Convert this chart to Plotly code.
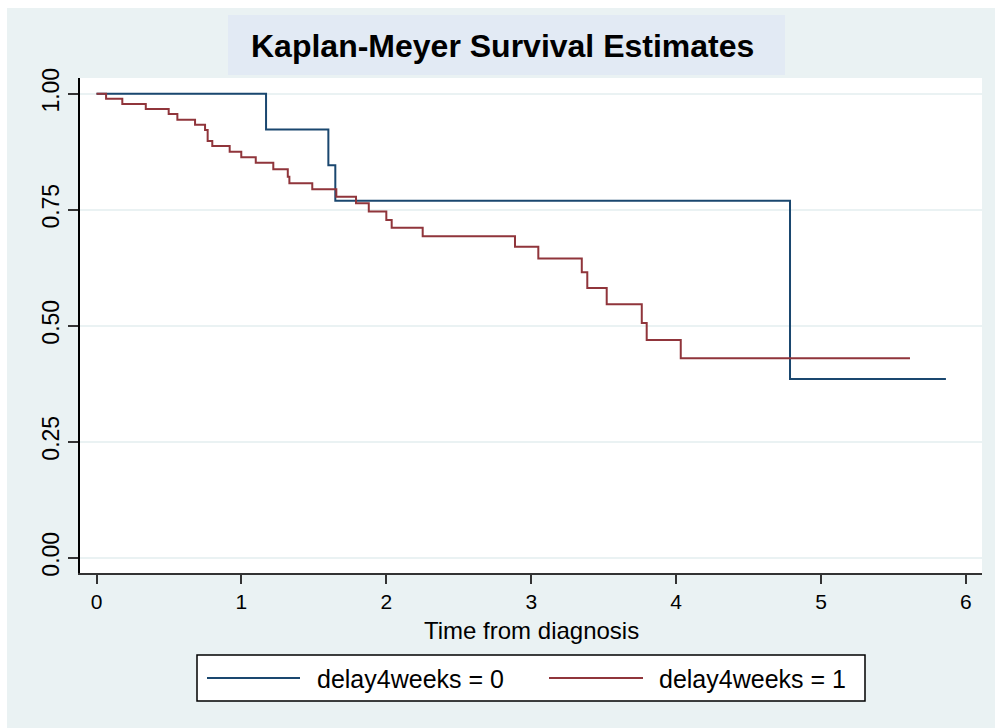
import plotly.graph_objects as go

# ---------------- data ----------------
group_names = ["delay4weeks = 0", "delay4weeks = 1"]

time_g0 = [0.0, 1.170, 1.600, 1.648, 4.786, 5.862]
surv_g0 = [1.000, 0.923, 0.846, 0.769, 0.385, 0.385]

time_g1 = [0.0, 0.066, 0.178, 0.340, 0.498, 0.558, 0.680, 0.749, 0.767, 0.799,
           0.919, 0.999, 1.099, 1.220, 1.320, 1.331, 1.489, 1.655, 1.791, 1.879,
           2.000, 2.037, 2.251, 2.888, 3.049, 3.349, 3.387, 3.521, 3.763, 3.797,
           4.032, 5.614]
surv_g1 = [1.000, 0.989, 0.978, 0.967, 0.956, 0.944, 0.933, 0.922, 0.898, 0.887,
           0.875, 0.863, 0.851, 0.837, 0.821, 0.807, 0.794, 0.778, 0.764, 0.746,
           0.728, 0.711, 0.693, 0.670, 0.645, 0.615, 0.581, 0.546, 0.506, 0.469,
           0.430, 0.430]

x_ticks = [0, 1, 2, 3, 4, 5, 6]
y_ticks = [0.0, 0.25, 0.5, 0.75, 1.0]
y_tick_labels = ["0.00", "0.25", "0.50", "0.75", "1.00"]

title_text = "Kaplan-Meyer Survival Estimates"
x_title = "Time from diagnosis"

colors = ["#1a476f", "#90353b"]

# ---------------- layout geometry ----------------
W, H = 995, 728
L, R, T, B = 80, 982, 78, 573
FONT = "Liberation Sans, Arial, sans-serif"


def px(x):
    return (x - L) / (R - L)


def py(y):
    return (B - y) / (B - T)


fig = go.Figure()
for t, s, c, n in [(time_g0, surv_g0, colors[0], group_names[0]),
                   (time_g1, surv_g1, colors[1], group_names[1])]:
    fig.add_trace(go.Scatter(x=t, y=s, mode="lines", line=dict(color=c, width=2, shape="hv"),
                             name=n, showlegend=False))

shapes = []
# white outer margin bands (top & left)
shapes.append(dict(type="rect", xref="paper", yref="paper", x0=px(0), x1=px(W), y0=py(0), y1=py(8),
                   fillcolor="white", line=dict(width=0), layer="above"))
shapes.append(dict(type="rect", xref="paper", yref="paper", x0=px(0), x1=px(7), y0=py(0), y1=py(H),
                   fillcolor="white", line=dict(width=0), layer="above"))
# title box
shapes.append(dict(type="rect", xref="paper", yref="paper", x0=px(228), x1=px(785), y0=py(15), y1=py(75),
                   fillcolor="#e2eaf4", line=dict(width=0), layer="above"))
# legend box
shapes.append(dict(type="rect", xref="paper", yref="paper", x0=px(197), x1=px(865), y0=py(655), y1=py(701),
                   fillcolor="white", line=dict(color="black", width=1.5), layer="above"))
shapes.append(dict(type="line", xref="paper", yref="paper", x0=px(207), x1=px(300), y0=py(678), y1=py(678),
                   line=dict(color=colors[0], width=2), layer="above"))
shapes.append(dict(type="line", xref="paper", yref="paper", x0=px(549), x1=px(643), y0=py(678), y1=py(678),
                   line=dict(color=colors[1], width=2), layer="above"))

annotations = [
    dict(text="<b>" + title_text + "</b>", xref="paper", yref="paper", x=px(502), y=py(46),
         xanchor="center", yanchor="middle", showarrow=False,
         font=dict(family=FONT, size=32, color="black")),
    dict(text=x_title, xref="paper", yref="paper", x=px(531), y=py(630),
         xanchor="center", yanchor="middle", showarrow=False,
         font=dict(family=FONT, size=24, color="black")),
    dict(text=group_names[0], xref="paper", yref="paper", x=px(315), y=py(679),
         xanchor="left", yanchor="middle", showarrow=False,
         font=dict(family=FONT, size=25, color="black")),
    dict(text=group_names[1], xref="paper", yref="paper", x=px(657), y=py(679),
         xanchor="left", yanchor="middle", showarrow=False,
         font=dict(family=FONT, size=25, color="black")),
]

fig.update_layout(
    width=W, height=H,
    margin=dict(l=L, r=W - R, t=T, b=H - B, pad=0),
    paper_bgcolor="#eaf2f3",
    plot_bgcolor="white",
    showlegend=False,
    shapes=shapes,
    annotations=annotations,
    font=dict(family=FONT, color="black"),
)

fig.update_xaxes(
    range=[-0.114, 6.111], tickvals=x_ticks, ticks="outside", ticklen=9, tickwidth=1.5,
    tickcolor="#333333", showline=True, linecolor="#333333", linewidth=1.5, showgrid=False,
    zeroline=False, tickfont=dict(family=FONT, size=21, color="black"),
)
fig.update_yaxes(
    range=[-0.033, 1.0338], tickvals=y_ticks, ticktext=y_tick_labels, ticks="outside",
    ticklen=10, tickwidth=1.5, tickcolor="#333333", showline=True, linecolor="black",
    linewidth=1.5, showgrid=True, gridcolor="#eaf2f3", gridwidth=2, zeroline=False,
    tickangle=-90, tickfont=dict(family=FONT, size=23, color="black"),
)

fig.write_html("out.html")
